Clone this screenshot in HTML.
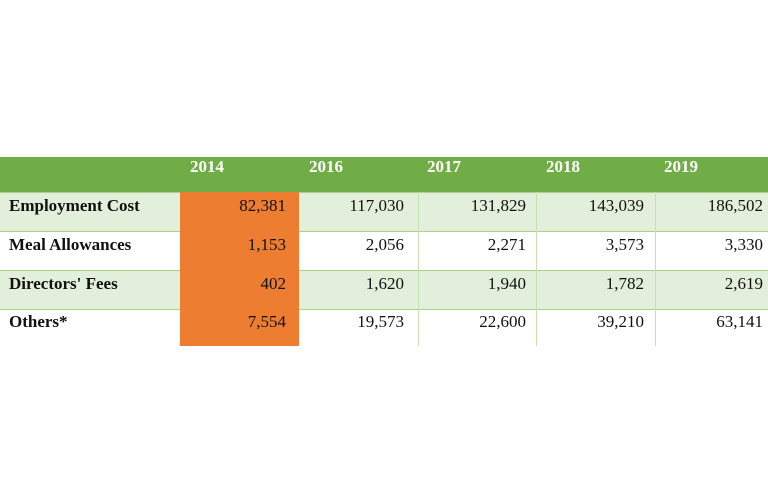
<!DOCTYPE html>
<html><head><meta charset="utf-8"><style>
body{margin:0;width:768px;height:503px;background:#fff;position:relative;overflow:hidden;font-family:"Liberation Serif",serif;}
.a{position:absolute;box-sizing:border-box;}
.hdr{background:#70ad47;left:0;top:157px;width:768px;height:35px;}
.row{left:0;width:768px;border-top:1px solid #a9d08e;}
.g{background:#e2efda;}
.vl{width:1px;background:#c6e0b4;}
.yr{color:#fff;font-weight:bold;font-size:17px;top:157px;line-height:20px;}
.lb{font-weight:bold;font-size:17px;left:9px;color:#111;}
.v{font-size:17px;color:#111;text-align:right;width:110px;}
</style></head><body>
<div class="a hdr"></div>
<div class="a row g" style="top:192px;height:39px"></div>
<div class="a row" style="top:231px;height:39px"></div>
<div class="a row g" style="top:270px;height:39px"></div>
<div class="a row" style="top:309px;height:37px"></div>
<div class="a" style="left:180px;top:192px;width:119px;height:154px;background:#ed7d31"></div>
<div class="a vl" style="left:418px;top:192px;height:154px"></div>
<div class="a vl" style="left:536px;top:192px;height:154px"></div>
<div class="a vl" style="left:655px;top:192px;height:154px"></div>
<div id="t"></div>
<script>
const years=["2014","2016","2017","2018","2019"];
const labels=["Employment Cost","Meal Allowances","Directors' Fees","Others*"];
const values=[["82,381","117,030","131,829","143,039","186,502"],["1,153","2,056","2,271","3,573","3,330"],["402","1,620","1,940","1,782","2,619"],["7,554","19,573","22,600","39,210","63,141"]];
const colL=[190,309,427,546,664],colR=[286,404,526,644,763],rowT=[196,235,274,312];
const b=document.body;
years.forEach((y,i)=>{const d=document.createElement('div');d.className='a yr';d.style.left=colL[i]+'px';d.textContent=y;


b.appendChild(d);});
labels.forEach((l,r)=>{const d=document.createElement('div');d.className='a lb';d.style.top=rowT[r]+'px';d.textContent=l;


b.appendChild(d);
values[r].forEach((v,c)=>{const e=document.createElement('div');e.className='a v';e.style.top=rowT[r]+'px';e.style.left=(colR[c]-110)+'px';e.textContent=v;


b.appendChild(e);});});
</script>
</body></html>
